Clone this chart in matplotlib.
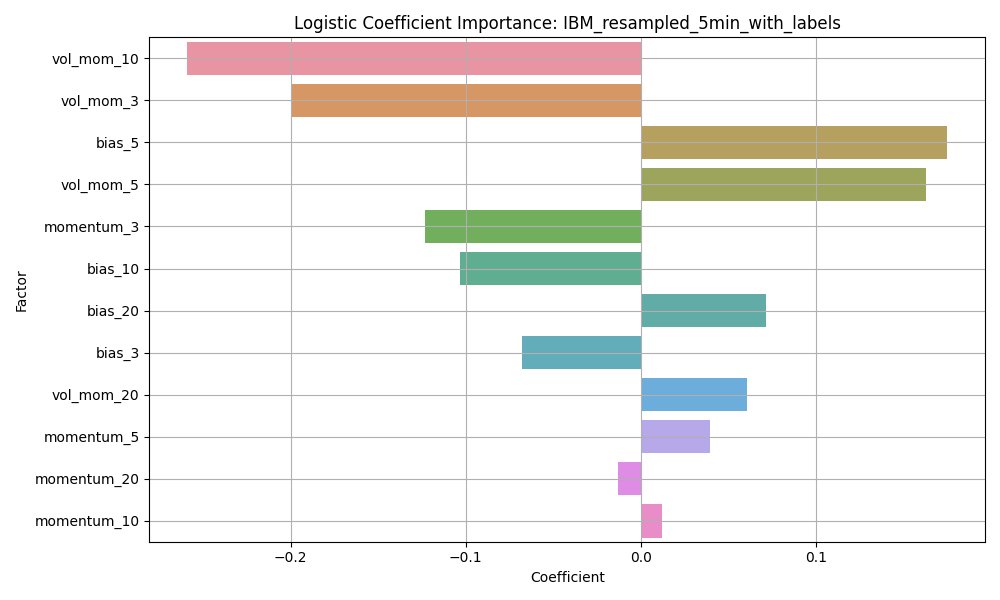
import matplotlib
matplotlib.use("Agg")
import matplotlib.pyplot as plt
import pandas as pd
import seaborn as sns

# Coefficients
factors = [
    "vol_mom_10", "vol_mom_3", "bias_5", "vol_mom_5", "momentum_3", "bias_10",
    "bias_20", "bias_3", "vol_mom_20", "momentum_5", "momentum_20", "momentum_10",
]
coefficients = [
    -0.2589, -0.1989, 0.1749, 0.1629, -0.1234, -0.1034,
    0.0714, -0.0680, 0.0606, 0.0394, -0.0131, 0.0120,
]

df = pd.DataFrame({"Factor": factors, "Coefficient": coefficients})

fig, ax = plt.subplots(figsize=(10, 6), dpi=100)
sns.barplot(data=df, x="Coefficient", y="Factor", hue="Factor",
            palette="husl", legend=False, alpha=0.85, ax=ax)
ax.set_title("Logistic Coefficient Importance: IBM_resampled_5min_with_labels")
ax.grid(True)
plt.tight_layout()
plt.savefig("out.png")
